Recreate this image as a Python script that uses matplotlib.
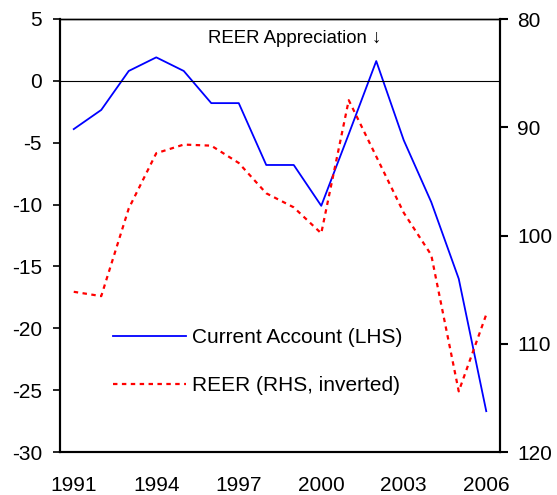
import numpy as np
import matplotlib
matplotlib.use("Agg")
import matplotlib.pyplot as plt

plt.rcParams['font.family'] = ['Liberation Sans', 'DejaVu Sans']
plt.rcParams['axes.unicode_minus'] = False

# data
years = [1991, 1992, 1993, 1994, 1995, 1996, 1997, 1998, 1999, 2000,
         2001, 2002, 2003, 2004, 2005, 2006]
current_account = [-3.9, -2.35, 0.8, 1.9, 0.8, -1.8, -1.8, -6.8, -6.8, -10.1,
                   -4.3, 1.6, -4.8, -9.8, -16.0, -26.7]
reer = [105.2, 105.6, 97.5, 92.4, 91.6, 91.7, 93.3, 96.1, 97.4, 99.8,
        87.5, 92.7, 97.9, 101.8, 114.4, 107.3]
xticks = [1991, 1994, 1997, 2000, 2003, 2006]
left_ticks = [5, 0, -5, -10, -15, -20, -25, -30]
right_ticks = [80, 90, 100, 110, 120]

fig = plt.figure(figsize=(5.57, 4.95), dpi=100)
ax = fig.add_axes([60/557, 1 - 452/495, 440/557, 433/495])
ax2 = ax.twinx()

l1, = ax.plot(years, current_account, color='#0000FF', lw=1.3, label='Current Account (LHS)')
l2, = ax2.plot(years, reer, color='#FF0000', lw=1.6, linestyle=(0, (2, 2)),
               label='REER (RHS, inverted)')
ax.axhline(0, color='black', lw=0.8)

ax.set_xlim(1990.5, 2006.5)
ax.set_ylim(-30, 5)
ax.set_yticks(left_ticks)
ax.set_xticks(xticks)
ax2.set_ylim(120, 80)
ax2.set_yticks(right_ticks)

ax.tick_params(axis='x', length=0, pad=17, labelsize=15)
ax.tick_params(axis='y', length=5, width=1.2, pad=8, labelsize=15)
ax2.tick_params(axis='y', length=5.5, width=1.5, pad=7, labelsize=15)

for a in (ax, ax2):
    for s in a.spines.values():
        s.set_linewidth(1.5)
    a.spines['top'].set_linewidth(1.0)

ax.text(2002.2, 0.955, 'REER Appreciation \u2193', transform=ax.get_xaxis_transform(),
        ha='right', va='center', fontsize=13.4)

ax.legend(handles=[l1, l2], loc='upper left', bbox_to_anchor=(0.12, 0.286),
          frameon=False, fontsize=15, handlelength=3.5, handletextpad=0.3,
          labelspacing=1.4, borderpad=0, borderaxespad=0)

plt.savefig('out.png', dpi=100)
